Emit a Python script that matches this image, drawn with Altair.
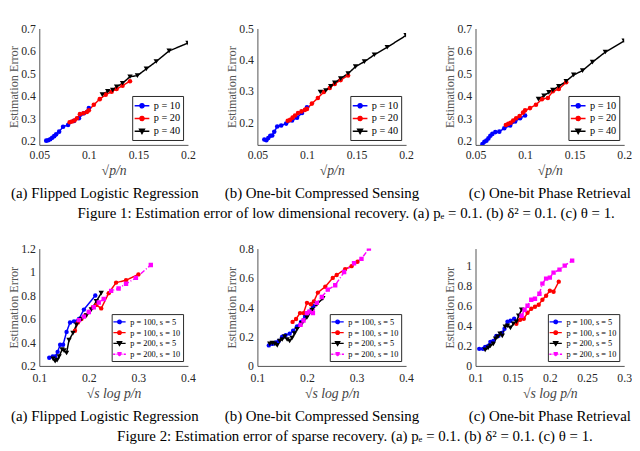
import altair as alt
import pandas as pd

# ---------------- Figure 1 data (low dimensional) ----------------
top_names = ["p = 10", "p = 20", "p = 40"]
top_colors = ["#0000ff", "#ff0000", "#000000"]

x_p10 = [0.057, 0.059, 0.061, 0.063, 0.065, 0.067, 0.070, 0.074, 0.079, 0.085, 0.090, 0.095, 0.100]
x_p20 = [0.0806, 0.083, 0.0855, 0.088, 0.091, 0.0945, 0.098, 0.100, 0.105, 0.111, 0.117, 0.123, 0.128, 0.134, 0.1415]
x_p40 = [0.1135, 0.119, 0.124, 0.128, 0.134, 0.1415, 0.149, 0.158, 0.168, 0.181, 0.200]

a1_p10 = [0.200, 0.202, 0.206, 0.213, 0.220, 0.228, 0.240, 0.262, 0.270, 0.288, 0.300, 0.322, 0.345]
a1_p20 = [0.282, 0.285, 0.290, 0.300, 0.318, 0.322, 0.328, 0.335, 0.360, 0.385, 0.405, 0.418, 0.430, 0.445, 0.465]
a1_p40 = [0.405, 0.420, 0.425, 0.440, 0.456, 0.485, 0.490, 0.520, 0.553, 0.600, 0.635]

b1_p10 = [0.145, 0.143, 0.150, 0.157, 0.158, 0.170, 0.187, 0.190, 0.196, 0.206, 0.215, 0.230, 0.248]
b1_p20 = [0.205, 0.208, 0.215, 0.222, 0.230, 0.235, 0.240, 0.243, 0.260, 0.278, 0.297, 0.310, 0.323, 0.335, 0.350]
b1_p40 = [0.297, 0.302, 0.315, 0.326, 0.340, 0.356, 0.378, 0.394, 0.416, 0.440, 0.478]

c1_p10 = [0.185, 0.195, 0.200, 0.210, 0.222, 0.230, 0.238, 0.240, 0.255, 0.268, 0.285, 0.300, 0.312]
c1_p20 = [0.270, 0.275, 0.280, 0.290, 0.300, 0.310, 0.325, 0.335, 0.345, 0.360, 0.385, 0.390, 0.420, 0.430, 0.460]
c1_p40 = [0.385, 0.400, 0.415, 0.425, 0.442, 0.465, 0.493, 0.512, 0.550, 0.595, 0.645]

# ---------------- Figure 2 data (sparse) ----------------
bot_names = ["p = 100, s = 5", "p = 100, s = 10", "p = 200, s = 5", "p = 200, s = 10"]
bot_colors = ["#0000ff", "#ff0000", "#000000", "#ff00ff"]

a2_x1 = [0.120, 0.127, 0.132, 0.137, 0.142, 0.148, 0.155, 0.162, 0.170, 0.180, 0.190, 0.213]
a2_y1 = [0.27, 0.28, 0.28, 0.32, 0.38, 0.38, 0.49, 0.57, 0.58, 0.60, 0.68, 0.80]
a2_x2 = [0.172, 0.178, 0.185, 0.193, 0.200, 0.208, 0.215, 0.225, 0.240, 0.255, 0.275, 0.300]
a2_y2 = [0.50, 0.57, 0.60, 0.63, 0.66, 0.70, 0.72, 0.69, 0.82, 0.91, 0.93, 0.98]
a2_x3 = [0.128, 0.132, 0.136, 0.140, 0.146, 0.150, 0.155, 0.160, 0.168, 0.175, 0.185, 0.195, 0.205, 0.215, 0.225]
a2_y3 = [0.26, 0.24, 0.25, 0.28, 0.34, 0.33, 0.31, 0.42, 0.48, 0.55, 0.60, 0.63, 0.68, 0.75, 0.82]
a2_x4 = [0.180, 0.190, 0.200, 0.210, 0.220, 0.230, 0.245, 0.260, 0.275, 0.295, 0.325]
a2_y4 = [0.59, 0.62, 0.66, 0.70, 0.74, 0.77, 0.84, 0.86, 0.90, 0.95, 1.06]

b2_x1 = [0.123, 0.130, 0.137, 0.143, 0.150, 0.157, 0.165, 0.172, 0.180, 0.188, 0.196, 0.205, 0.212]
b2_y1 = [0.14, 0.15, 0.16, 0.17, 0.20, 0.21, 0.22, 0.24, 0.27, 0.30, 0.34, 0.37, 0.41]
b2_x2 = [0.171, 0.178, 0.186, 0.193, 0.200, 0.208, 0.214, 0.222, 0.237, 0.252, 0.260, 0.277, 0.290, 0.302]
b2_y2 = [0.30, 0.32, 0.36, 0.36, 0.43, 0.42, 0.44, 0.50, 0.54, 0.60, 0.62, 0.66, 0.68, 0.71]
b2_x3 = [0.125, 0.130, 0.135, 0.140, 0.145, 0.150, 0.155, 0.160, 0.165, 0.170, 0.175, 0.180, 0.190, 0.200, 0.210, 0.220, 0.232]
b2_y3 = [0.15, 0.155, 0.15, 0.14, 0.17, 0.18, 0.20, 0.18, 0.17, 0.19, 0.22, 0.25, 0.29, 0.33, 0.38, 0.42, 0.46]
b2_x4 = [0.187, 0.193, 0.200, 0.205, 0.212, 0.220, 0.230, 0.242, 0.257, 0.275, 0.295, 0.310, 0.325]
b2_y4 = [0.28, 0.31, 0.36, 0.37, 0.36, 0.43, 0.47, 0.52, 0.55, 0.64, 0.70, 0.73, 0.80]

c2_x1 = [0.105, 0.110, 0.113, 0.117, 0.120, 0.124, 0.128, 0.131, 0.135, 0.139, 0.143, 0.147, 0.152]
c2_y1 = [0.17, 0.17, 0.19, 0.20, 0.24, 0.25, 0.30, 0.30, 0.33, 0.37, 0.44, 0.45, 0.47]
c2_x2 = [0.155, 0.160, 0.165, 0.170, 0.175, 0.180, 0.185, 0.190, 0.195, 0.200, 0.205, 0.212]
c2_y2 = [0.42, 0.46, 0.47, 0.53, 0.57, 0.59, 0.61, 0.66, 0.70, 0.75, 0.74, 0.84]
c2_x3 = [0.113, 0.117, 0.120, 0.124, 0.127, 0.130, 0.133, 0.136, 0.140, 0.143, 0.147, 0.151, 0.155, 0.158, 0.162]
c2_y3 = [0.16, 0.18, 0.20, 0.22, 0.27, 0.29, 0.32, 0.30, 0.39, 0.40, 0.38, 0.42, 0.44, 0.50, 0.56]
c2_x4 = [0.162, 0.166, 0.170, 0.175, 0.180, 0.186, 0.190, 0.195, 0.200, 0.205, 0.213, 0.220, 0.230]
c2_y4 = [0.50, 0.56, 0.60, 0.66, 0.67, 0.72, 0.82, 0.87, 0.88, 0.93, 0.96, 1.00, 1.05]

captions_sub = ["(a) Flipped Logistic Regression", "(b) One-bit Compressed Sensing", "(c) One-bit Phase Retrieval"]
fig1_caption = "Figure 1: Estimation error of low dimensional recovery. (a) pₑ = 0.1. (b) δ² = 0.1. (c) θ = 1."
fig2_caption = "Figure 2: Estimation error of sparse recovery. (a) pₑ = 0.1. (b) δ² = 0.1. (c) θ = 1."

SERIF = "Liberation Serif"

# legend glyphs: line segment + marker (custom symbol paths)
CIRCLE_P = "M-1.25,0L1.25,0M0.36,0A0.36,0.36,0,1,1,-0.36,0A0.36,0.36,0,1,1,0.36,0Z"
TRI_P = "M-1.25,0L1.25,0M-0.42,-0.34L0.42,-0.34L0,0.4Z"
SQ_DASHDOT = ("M-1.3,0L-0.85,0M-0.68,0L-0.6,0M-0.45,0L-0.35,0M0.35,0L0.45,0M0.6,0L0.68,0M0.85,0L1.3,0"
              "M-0.3,-0.3L0.3,-0.3L0.3,0.3L-0.3,0.3Z")


def make_df(series):
    rows = []
    for name, xs, ys in series:
        for i, (x, y) in enumerate(zip(xs, ys)):
            rows.append({"series": name, "x": x, "y": y, "idx": i})
    return pd.DataFrame(rows)


def panel(df, names, colors, marker_shapes, dashes, sym_paths, xdom, ydom, xticks, yticks,
          xtitle, caption, cap_dx, w, h, small):
    legend = alt.Legend(
        title=None, orient="bottom-right", offset=5,
        padding=3 if not small else 2,
        strokeColor="#262626", fillColor="white", cornerRadius=0,
        labelFont=SERIF, labelFontSize=10.5 if not small else 8.5, labelColor="black",
        symbolSize=144 if not small else 100, rowPadding=0, labelOffset=5,
        symbolOpacity=1, symbolStrokeWidth=1.4,
    )
    x = alt.X("x:Q", scale=alt.Scale(domain=xdom, nice=False, zero=False),
              axis=alt.Axis(values=xticks, format="~g", title=xtitle,
                            labelPadding=7 if small else 5))
    y = alt.Y("y:Q", scale=alt.Scale(domain=ydom, nice=False, zero=False),
              axis=alt.Axis(values=yticks, format="~g", title="Estimation Error"))
    color = alt.Color("series:N", scale=alt.Scale(domain=names, range=colors), legend=legend)
    base = alt.Chart(df)
    layers = [
        base.mark_line(strokeWidth=1.5, clip=True).encode(
            x=x, y=y, color=color, order=alt.Order("idx:Q"),
            strokeDash=alt.StrokeDash("series:N", scale=alt.Scale(domain=names, range=dashes), legend=None),
        )
    ]
    for shp in dict.fromkeys(marker_shapes):
        sel = [n for n, s in zip(names, marker_shapes) if s == shp]
        size = 30 if shp == "triangle-down" else (20 if small else 22)
        layers.append(
            base.transform_filter(alt.FieldOneOfPredicate(field="series", oneOf=sel))
            .mark_point(filled=True, opacity=1, shape=shp, size=size, clip=True)
            .encode(x=x, y=y, color=color)
        )
    # invisible layer carrying the legend glyphs (line + marker)
    layers.append(
        base.mark_point(opacity=0, filled=True, clip=True).encode(
            x=x, y=y,
            fill=alt.Fill("series:N", scale=alt.Scale(domain=names, range=colors), legend=legend),
            stroke=alt.Stroke("series:N", scale=alt.Scale(domain=names, range=colors), legend=legend),
            shape=alt.Shape("series:N", scale=alt.Scale(domain=names, range=sym_paths), legend=legend),
        )
    )
    return alt.layer(*layers).properties(
        width=w, height=h,
        title=alt.TitleParams(text=caption, orient="bottom", font=SERIF, fontSize=15.2,
                              fontWeight="normal", color="black", offset=9, anchor="middle", dx=cap_dx),
    )


top_shapes = ["circle", "circle", "triangle-down"]
top_dashes = [[1, 0], [1, 0], [1, 0]]
top_paths = [CIRCLE_P, CIRCLE_P, TRI_P]
bot_shapes = ["circle", "circle", "triangle-down", "square"]
bot_dashes = [[1, 0], [1, 0], [1, 0], [5, 2, 1, 2]]
bot_paths = [CIRCLE_P, CIRCLE_P, TRI_P, SQ_DASHDOT]

df_a1 = make_df(zip(top_names, [x_p10, x_p20, x_p40], [a1_p10, a1_p20, a1_p40]))
df_b1 = make_df(zip(top_names, [x_p10, x_p20, x_p40], [b1_p10, b1_p20, b1_p40]))
df_c1 = make_df(zip(top_names, [x_p10, x_p20, x_p40], [c1_p10, c1_p20, c1_p40]))
df_a2 = make_df(zip(bot_names, [a2_x1, a2_x2, a2_x3, a2_x4], [a2_y1, a2_y2, a2_y3, a2_y4]))
df_b2 = make_df(zip(bot_names, [b2_x1, b2_x2, b2_x3, b2_x4], [b2_y1, b2_y2, b2_y3, b2_y4]))
df_c2 = make_df(zip(bot_names, [c2_x1, c2_x2, c2_x3, c2_x4], [c2_y1, c2_y2, c2_y3, c2_y4]))

XT1 = "√p/n"
XT2 = "√s log p/n"
W = 152
CAP_DX = [-9, -10, 0]

pa1 = panel(df_a1, top_names, top_colors, top_shapes, top_dashes, top_paths, [0.05, 0.2], [0.181, 0.7],
            [0.05, 0.1, 0.15, 0.2], [0.2, 0.3, 0.4, 0.5, 0.6, 0.7], XT1, captions_sub[0], CAP_DX[0], W, 119, False)
pb1 = panel(df_b1, top_names, top_colors, top_shapes, top_dashes, top_paths, [0.05, 0.2], [0.128, 0.5],
            [0.05, 0.1, 0.15, 0.2], [0.2, 0.3, 0.4, 0.5], XT1, captions_sub[1], CAP_DX[1], W, 119, False)
pc1 = panel(df_c1, top_names, top_colors, top_shapes, top_dashes, top_paths, [0.05, 0.2], [0.181, 0.7],
            [0.05, 0.1, 0.15, 0.2], [0.2, 0.3, 0.4, 0.5, 0.6, 0.7], XT1, captions_sub[2], CAP_DX[2], W, 119, False)
pa2 = panel(df_a2, bot_names, bot_colors, bot_shapes, bot_dashes, bot_paths, [0.1, 0.4], [0.2, 1.2],
            [0.1, 0.2, 0.3, 0.4], [0.2, 0.4, 0.6, 0.8, 1.0, 1.2], XT2, captions_sub[0], CAP_DX[0], W, 120, True)
pb2 = panel(df_b2, bot_names, bot_colors, bot_shapes, bot_dashes, bot_paths, [0.1, 0.4], [0.0, 0.8],
            [0.1, 0.2, 0.3, 0.4], [0.0, 0.2, 0.4, 0.6, 0.8], XT2, captions_sub[1], CAP_DX[1], W, 120, True)
pc2 = panel(df_c2, bot_names, bot_colors, bot_shapes, bot_dashes, bot_paths, [0.1, 0.3], [0.0, 1.17],
            [0.1, 0.15, 0.2, 0.25, 0.3], [0.0, 0.2, 0.4, 0.6, 0.8, 1.0], XT2, captions_sub[2], CAP_DX[2], W, 120, True)

IND = dict(color="independent", fill="independent", stroke="independent",
           shape="independent", strokeDash="independent")
IND_L = dict(color="independent", fill="independent", stroke="independent", shape="independent")


def row(panels, caption, dx):
    return alt.hconcat(*panels, spacing=71, bounds="flush",
                       title=alt.TitleParams(text=caption, orient="bottom", font=SERIF, fontSize=15.2,
                                             fontWeight="normal", color="black", offset=6,
                                             anchor="middle", dx=dx)
                       ).resolve_scale(**IND).resolve_legend(**IND_L)


row1 = row([pa1, pb1, pc1], fig1_caption, 27)
row2 = row([pa2, pb2, pc2], fig2_caption, 36)

chart = alt.vconcat(row1, row2, spacing=21).resolve_scale(**IND).resolve_legend(**IND_L).properties(
    padding={"left": 0, "top": 10, "right": 0, "bottom": 0}
).configure_view(stroke=None).configure_axis(
    grid=False, ticks=False, tickSize=0, labelPadding=4, labelFont=SERIF, labelFontSize=12,
    labelColor="#262626", domainColor="#262626", domainWidth=0.8,
    titleFont=SERIF, titleFontSize=12.5, titleFontWeight="normal", titleColor="#555555",
    titlePadding=0, labelFlush=False, labelOverlap=False,
).configure_axisX(titleFontSize=14, titleFontStyle="italic", titleColor="#444444",
                  titlePadding=3)

chart.save("out.html", embed_options={"renderer": "svg", "actions": False})
